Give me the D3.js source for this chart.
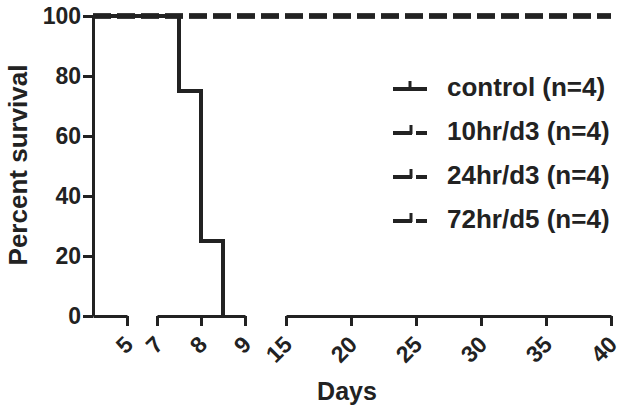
<!DOCTYPE html>
<html>
<head>
<meta charset="utf-8">
<script src="https://cdn.jsdelivr.net/npm/d3@7"></script>
<style>
  html, body { margin: 0; padding: 0; background: #fff; }
  svg { display: block; font-family: "Liberation Sans", Arial, Helvetica, sans-serif; font-weight: bold; }
</style>
</head>
<body>
<svg id="chart" width="624" height="411"></svg>
<script>
// ---- data ----
const groups = ["control (n=4)", "10hr/d3 (n=4)", "24hr/d3 (n=4)", "72hr/d5 (n=4)"];
const controlDays = [0, 7.5, 8, 8.5];
const controlSurvival = [100, 75, 25, 0];
const treatedDays = [0, 40];
const treated10Survival = [100, 100];
const treated24Survival = [100, 100];
const treated72Survival = [100, 100];
const yTicks = [0, 20, 40, 60, 80, 100];
const xSegments = [
  { domain: [4.25, 5], ticks: [5] },
  { domain: [7, 9], ticks: [7, 8, 9] },
  { domain: [15, 40], ticks: [15, 20, 25, 30, 35, 40] }
];
const segRanges = [[93, 127], [157, 245], [286, 611]];

const ink = "#222";
const svg = d3.select("#chart");
const fmt = d3.format("d");

// piecewise x scale over the broken axis
const x = d3.scaleLinear()
  .domain(xSegments.flatMap(s => s.domain))
  .range(segRanges.flat())
  .clamp(true);
const y = d3.scaleLinear().domain([0, 100]).range([316, 16]);

// y axis
const yAxis = svg.append("g").attr("transform", "translate(93,0)")
  .call(d3.axisLeft(y).tickValues(yTicks).tickFormat(fmt).tickSize(10).tickSizeOuter(0).tickPadding(2));
yAxis.selectAll("path, line").attr("stroke", ink).attr("stroke-width", 3);
yAxis.selectAll("text").attr("fill", ink).style("font-size", "23px").style("font-weight", "bold")
  .style("font-family", "Liberation Sans, Arial, sans-serif");

// x axis segments
xSegments.forEach((seg, i) => {
  const sx = d3.scaleLinear().domain(seg.domain).range(segRanges[i]);
  const g = svg.append("g").attr("transform", "translate(0,316)")
    .call(d3.axisBottom(sx).tickValues(seg.ticks).tickFormat(fmt).tickSize(10).tickSizeOuter(0));
  g.selectAll("path, line").attr("stroke", ink).attr("stroke-width", 3);
  g.selectAll("text")
    .attr("fill", ink)
    .attr("x", 0).attr("y", 0).attr("dy", 0)
    .attr("transform", "translate(7,30) rotate(-45)")
    .style("text-anchor", "end")
    .style("font-size", "23px").style("font-weight", "bold")
    .style("font-family", "Liberation Sans, Arial, sans-serif");
});

// step line generator
const step = d3.line().x(d => x(d[0])).y(d => y(d[1])).curve(d3.curveStepAfter);

// treated groups (dashed, overlapping at 100%)
[treated10Survival, treated24Survival, treated72Survival].forEach(vals => {
  svg.append("path")
    .datum(treatedDays.map((d, i) => [d, vals[i]]))
    .attr("d", step)
    .attr("fill", "none")
    .attr("stroke", ink)
    .attr("stroke-width", 5)
    .attr("stroke-dasharray", "18,6");
});

// control
svg.append("path")
  .datum(controlDays.map((d, i) => [d, controlSurvival[i]]))
  .attr("d", step)
  .attr("fill", "none")
  .attr("stroke", ink)
  .attr("stroke-width", 4);

// axis titles
svg.append("text").attr("x", 347).attr("y", 400).attr("text-anchor", "middle")
  .attr("fill", ink).style("font-size", "25px").text("Days");
svg.append("text").attr("transform", "translate(27,165) rotate(-90)").attr("text-anchor", "middle")
  .attr("fill", ink).style("font-size", "26px").text("Percent survival");

// legend
const baselines = [96, 140, 184, 228];
groups.forEach((name, i) => {
  const g = svg.append("g").attr("transform", `translate(0,${baselines[i] - 7})`);
  if (i === 0) {
    g.append("line").attr("x1", 393).attr("x2", 427).attr("y1", 0).attr("y2", 0)
      .attr("stroke", ink).attr("stroke-width", 4);
    g.append("line").attr("x1", 410).attr("x2", 410).attr("y1", 0).attr("y2", -8)
      .attr("stroke", ink).attr("stroke-width", 3);
  } else {
    g.append("line").attr("x1", 393).attr("x2", 412).attr("y1", 0).attr("y2", 0)
      .attr("stroke", ink).attr("stroke-width", 4);
    g.append("line").attr("x1", 411).attr("x2", 411).attr("y1", 1).attr("y2", -8)
      .attr("stroke", ink).attr("stroke-width", 3);
    g.append("line").attr("x1", 416).attr("x2", 427).attr("y1", 0).attr("y2", 0)
      .attr("stroke", ink).attr("stroke-width", 4);
  }
  svg.append("text").attr("x", 447).attr("y", baselines[i]).attr("fill", ink)
    .style("font-size", "26px").text(name);
});
</script>
</body>
</html>
